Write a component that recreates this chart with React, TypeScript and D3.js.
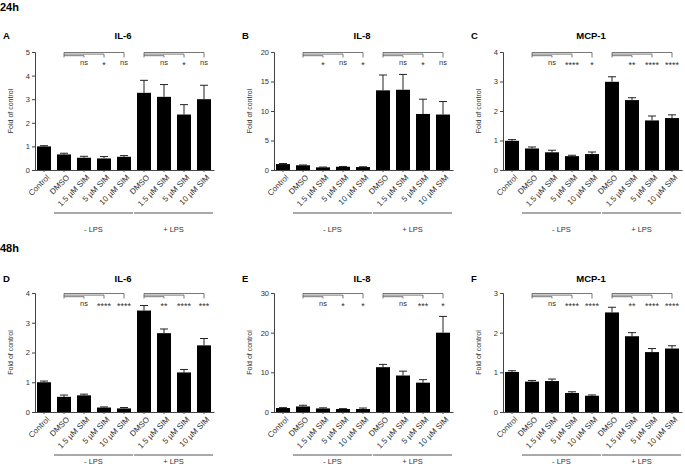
import React, { useEffect, useRef } from 'react';
import * as d3 from 'd3';

// x categories (shared by all six panels)
const categories = ['Control', 'DMSO', '1.5 µM SIM', '5 µM SIM', '10 µM SIM', 'DMSO', '1.5 µM SIM', '5 µM SIM', '10 µM SIM'];
const groups = [
  { label: '- LPS', from: 1, to: 4 },
  { label: '+ LPS', from: 5, to: 8 },
];

// 24h
const il6_24 = [1.0, 0.66, 0.52, 0.49, 0.56, 3.27, 3.1, 2.35, 3.0];
const il6_24Err = [0.03, 0.05, 0.06, 0.08, 0.05, 0.53, 0.52, 0.42, 0.59];
const il6_24Sig = ['ns', '*', 'ns', 'ns', '*', 'ns'];

const il8_24 = [1.0, 0.8, 0.45, 0.55, 0.5, 13.5, 13.6, 9.5, 9.4];
const il8_24Err = [0.1, 0.05, 0.05, 0.05, 0.05, 2.6, 2.6, 2.5, 2.2];
const il8_24Sig = ['*', 'ns', '*', 'ns', '*', 'ns'];

const mcp1_24 = [0.99, 0.73, 0.6, 0.47, 0.54, 2.99, 2.37, 1.68, 1.76];
const mcp1_24Err = [0.04, 0.05, 0.07, 0.03, 0.07, 0.17, 0.08, 0.15, 0.11];
const mcp1_24Sig = ['ns', '****', '*', '**', '****', '****'];

// 48h
const il6_48 = [1.0, 0.51, 0.56, 0.15, 0.12, 3.41, 2.65, 1.33, 2.24];
const il6_48Err = [0.04, 0.06, 0.04, 0.02, 0.03, 0.17, 0.14, 0.1, 0.23];
const il6_48Sig = ['ns', '****', '****', '**', '****', '***'];

const il8_48 = [1.0, 1.4, 0.9, 0.75, 0.75, 11.3, 9.2, 7.4, 20.0];
const il8_48Err = [0.1, 0.3, 0.15, 0.1, 0.25, 0.7, 1.1, 0.75, 4.1];
const il8_48Sig = ['ns', '*', '*', 'ns', '***', '*'];

const mcp1_48 = [1.01, 0.765, 0.78, 0.48, 0.41, 2.51, 1.91, 1.51, 1.6];
const mcp1_48Err = [0.03, 0.03, 0.05, 0.03, 0.02, 0.13, 0.09, 0.09, 0.07];
const mcp1_48Sig = ['ns', '****', '****', '**', '****', '****'];

const ticks5 = [0, 1, 2, 3, 4, 5];
const ticks20 = [0, 5, 10, 15, 20];
const ticks4 = [0, 1, 2, 3, 4];
const ticks30 = [0, 10, 20, 30];
const ticks3 = [0, 1, 2, 3];

const panels = [
  { letter: 'A', title: 'IL-6', row: 0, col: 0, max: 5, ticks: ticks5, values: il6_24, errs: il6_24Err, sig: il6_24Sig },
  { letter: 'B', title: 'IL-8', row: 0, col: 1, max: 20, ticks: ticks20, values: il8_24, errs: il8_24Err, sig: il8_24Sig },
  { letter: 'C', title: 'MCP-1', row: 0, col: 2, max: 4, ticks: ticks4, values: mcp1_24, errs: mcp1_24Err, sig: mcp1_24Sig },
  { letter: 'D', title: 'IL-6', row: 1, col: 0, max: 4, ticks: ticks4, values: il6_48, errs: il6_48Err, sig: il6_48Sig },
  { letter: 'E', title: 'IL-8', row: 1, col: 1, max: 30, ticks: ticks30, values: il8_48, errs: il8_48Err, sig: il8_48Sig },
  { letter: 'F', title: 'MCP-1', row: 1, col: 2, max: 3, ticks: ticks3, values: mcp1_48, errs: mcp1_48Err, sig: mcp1_48Sig },
];

const colX = [35, 274, 503];
const rows = [
  { head: '24h', headY: 11, titleY: 39, top: 52, zero: 170, lineY: 213, labelY: 232 },
  { head: '48h', headY: 252, titleY: 282, top: 293, zero: 412, lineY: 455, labelY: 464 },
];

const FONT = '"Liberation Sans", Arial, sans-serif';

const App: React.FC = () => {
  const svgRef = useRef<SVGSVGElement>(null);

  useEffect(() => {
    if (!svgRef.current) return;
    const svg = d3.select(svgRef.current).html('');
    svg.style('font-family', FONT);

    rows.forEach((r) => {
      svg.append('text')
        .attr('x', 0).attr('y', r.headY)
        .style('font-size', '11px').style('font-weight', 'bold')
        .text(r.head);
    });

    panels.forEach((p) => {
      const r = rows[p.row];
      const ax = colX[p.col];
      const g = svg.append('g');

      const x = d3.scaleBand<number>()
        .domain(d3.range(categories.length))
        .range([ax - 1, ax + 179])
        .paddingInner(0.3)
        .paddingOuter(0.15);
      const y = d3.scaleLinear().domain([0, p.max]).range([r.zero, r.top]);
      const cx = (i: number) => x(i)! + x.bandwidth() / 2;

      // letter + title
      g.append('text').attr('x', ax - 32).attr('y', r.titleY)
        .style('font-size', '9.5px').style('font-weight', 'bold').text(p.letter);
      g.append('text').attr('x', ax + 88).attr('y', r.titleY)
        .attr('text-anchor', 'middle')
        .style('font-size', '9.5px').style('font-weight', 'bold').text(p.title);

      // bars
      g.selectAll('rect.bar').data(p.values).join('rect')
        .attr('class', 'bar')
        .attr('x', (_, i) => x(i)!)
        .attr('y', (d) => y(d))
        .attr('width', x.bandwidth())
        .attr('height', (d) => r.zero - y(d))
        .attr('fill', '#000');

      // error bars (upper only)
      p.values.forEach((v, i) => {
        const yt = y(v + p.errs[i]);
        g.append('line').attr('x1', cx(i)).attr('x2', cx(i))
          .attr('y1', y(v)).attr('y2', yt)
          .attr('stroke', '#222').attr('stroke-width', 1);
        g.append('line').attr('x1', cx(i) - 4).attr('x2', cx(i) + 4)
          .attr('y1', yt).attr('y2', yt)
          .attr('stroke', '#222').attr('stroke-width', 1);
      });

      // y axis
      const yAxis = g.append('g')
        .attr('transform', `translate(${ax},0)`)
        .call(d3.axisLeft(y).tickValues(p.ticks).tickSize(3).tickPadding(2).tickFormat(d3.format('d')));
      yAxis.attr('font-family', FONT).attr('font-size', 7.5);
      yAxis.selectAll('path,line').attr('stroke', '#444');
      yAxis.selectAll('text').attr('fill', '#333');

      g.append('text')
        .attr('transform', `translate(${ax - 22},${(r.top + r.zero) / 2}) rotate(-90)`)
        .attr('text-anchor', 'middle')
        .style('font-size', '7px').attr('fill', '#333')
        .text('Fold of control');

      // x axis with rotated labels
      const xAxis = g.append('g')
        .attr('transform', `translate(0,${r.zero})`)
        .call(d3.axisBottom(x).tickSize(2).tickSizeOuter(0).tickFormat((i) => categories[i as number]));
      xAxis.attr('font-family', FONT).attr('font-size', 8);
      xAxis.selectAll('path,line').attr('stroke', '#444');
      xAxis.selectAll('text')
        .attr('x', 0).attr('y', 0).attr('dy', '0.35em')
        .attr('transform', 'translate(4,6) rotate(-45)')
        .attr('text-anchor', 'end')
        .attr('fill', '#333');

      // group lines
      groups.forEach((gr) => {
        const x0 = x(gr.from)! - 3;
        const x1 = x(gr.to)! + x.bandwidth() + 2;
        g.append('line').attr('x1', x0).attr('x2', x1)
          .attr('y1', r.lineY).attr('y2', r.lineY)
          .attr('stroke', '#555').attr('stroke-width', 1);
        g.append('text').attr('x', (x0 + x1) / 2).attr('y', r.labelY)
          .attr('text-anchor', 'middle')
          .style('font-size', '7.5px').attr('fill', '#333')
          .text(gr.label);
      });

      // significance brackets
      groups.forEach((gr, gi) => {
        const s = gr.from;
        const yb = r.top + 5.5;
        g.append('line').attr('x1', cx(s)).attr('x2', cx(s))
          .attr('y1', r.top + 0.5).attr('y2', yb)
          .attr('stroke', '#555').attr('stroke-width', 0.8);
        [1, 2, 3].forEach((k) => {
          const yk = r.top + 0.5 + (3 - k) * 1.6;
          g.append('line').attr('x1', cx(s)).attr('x2', cx(s + k))
            .attr('y1', yk).attr('y2', yk)
            .attr('stroke', '#555').attr('stroke-width', 0.8);
          g.append('line').attr('x1', cx(s + k)).attr('x2', cx(s + k))
            .attr('y1', yk).attr('y2', yb)
            .attr('stroke', '#555').attr('stroke-width', 0.8);
          const lab = p.sig[gi * 3 + k - 1];
          const star = lab !== 'ns';
          g.append('text').attr('x', cx(s + k)).attr('y', r.top + (star ? 16 : 13))
            .attr('text-anchor', 'middle')
            .style('font-size', star ? '9px' : '7.5px').attr('fill', '#333')
            .text(lab);
        });
      });
    });
  }, []);

  return (
    <svg
      ref={svgRef}
      width={685}
      height={466}
      style={{ position: 'absolute', left: 0, top: 0, background: '#fff' }}
    />
  );
};

export default App;
